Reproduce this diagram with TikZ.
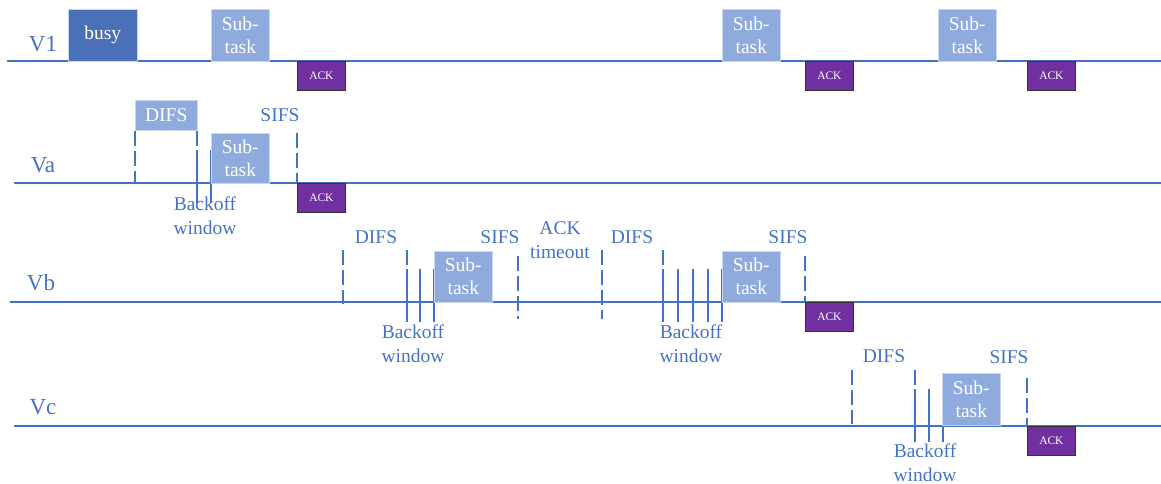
\documentclass[tikz,border=0pt]{standalone}
\usepackage{fontspec}
\setmainfont{Liberation Serif}
\definecolor{lineblue}{HTML}{4472C4}
\definecolor{busyblue}{HTML}{4A70B8}
\definecolor{subblue}{HTML}{8FAADC}
\definecolor{subedge}{HTML}{C9D6EE}
\definecolor{ackpurple}{HTML}{7030A0}
\tikzset{
  tline/.style={draw=lineblue, line width=1.6pt},
  dline/.style={draw=lineblue, line width=1.6pt, dash pattern=on 15pt off 5pt},
  sline/.style={draw=lineblue, line width=1.6pt},
  busybox/.style={fill=busyblue, draw=subedge, line width=0.6pt, text=white, anchor=north west, minimum width=69pt, minimum height=52pt, inner sep=0pt, font=\fontsize{19.5}{24}\selectfont, align=center},
  subbox/.style={fill=subblue, draw=subedge, line width=0.6pt, text=white, anchor=north west, minimum width=58pt, minimum height=52pt, inner sep=0pt, font=\fontsize{19.5}{23}\selectfont, align=center},
  difsbox/.style={fill=subblue, draw=subedge, line width=0.6pt, text=white, anchor=north west, minimum width=62pt, minimum height=30pt, inner sep=0pt, font=\fontsize{19.5}{23}\selectfont},
  ackbox/.style={fill=ackpurple, draw=black!80, line width=0.8pt, text=white, anchor=north west, minimum width=48pt, minimum height=29pt, inner sep=0pt, font=\fontsize{11.5}{13}\selectfont},
  lab/.style={text=lineblue, inner sep=0pt, font=\fontsize{19.5}{24}\selectfont, align=center},
  vlab/.style={text=lineblue, inner sep=0pt, font=\fontsize{23}{26}\selectfont},
}
\begin{document}
\begin{tikzpicture}[x=1pt,y=-1pt]
\useasboundingbox (0,0) rectangle (1161,484);
% timelines
\coordinate (l1a) at (7,61); \coordinate (l1b) at (1161,61);
\coordinate (laa) at (14,183); \coordinate (lab) at (1161,183);
\coordinate (lba) at (10,302); \coordinate (lbb) at (1161,302);
\coordinate (lca) at (14,426); \coordinate (lcb) at (1161,426);
\draw[tline] (l1a) -- (l1b);
\draw[tline] (laa) -- (lab);
\draw[tline] (lba) -- (lbb);
\draw[tline] (lca) -- (lcb);
% row labels
\node[vlab] (v1) at (43,44) {V1};
\node[vlab] (va) at (43,165) {Va};
\node[vlab] (vb) at (41,283) {Vb};
\node[vlab] (vc) at (43,407) {Vc};
% V1 row
\node[busybox] (busy) at (68,9) {busy};
\node[subbox] (s11) at (211,9) {Sub-\\task};
\node[ackbox] (a11) at (297,61) {ACK};
\node[subbox] (s12) at (722,9) {Sub-\\task};
\node[ackbox] (a12) at (805,61) {ACK};
\node[subbox] (s13) at (938,9) {Sub-\\task};
\node[ackbox] (a13) at (1027,61) {ACK};
% Va row
\node[difsbox] (difsa) at (135,100) {DIFS};
\coordinate (da1t) at (135,131); \coordinate (da1b) at (135,183);
\coordinate (da2t) at (197,131); \coordinate (da2m) at (197,150); \coordinate (da2b) at (197,203);
\coordinate (ba2t) at (211,150); \coordinate (ba2b) at (211,203);
\draw[dline] (da1t) -- (da1b);
\draw[dline] (da2t) -- (da2m);
\draw[sline] (da2m) -- (da2b);
\draw[sline] (ba2t) -- (ba2b);
\node[subbox, minimum height=50pt] (sa) at (211,133) {Sub-\\task};
\node[lab] (sifsa) at (280,115) {SIFS};
\coordinate (sat) at (297,133); \coordinate (sab) at (297,183);
\draw[dline] (sat) -- (sab);
\node[ackbox] (aa) at (297,183) {ACK};
\node[lab] (bwa) at (205,216) {Backoff\\window};
% Vb row
\node[lab] (difsb1) at (376,237) {DIFS};
\coordinate (db1t) at (343,250); \coordinate (db1b) at (343,304);
\draw[dline] (db1t) -- (db1b);
\coordinate (db2t) at (407,250); \coordinate (db2m) at (407,269); \coordinate (db2b) at (407,322);
\draw[dline] (db2t) -- (db2m);
\draw[sline] (db2m) -- (db2b);
\coordinate (bb2t) at (420,269); \coordinate (bb2b) at (420,322);
\coordinate (bb3t) at (434,269); \coordinate (bb3b) at (434,322);
\draw[sline] (bb2t) -- (bb2b);
\draw[sline] (bb3t) -- (bb3b);
\node[subbox, minimum height=51pt] (sb1) at (434,251) {Sub-\\task};
\node[lab] (sifsb1) at (500,237) {SIFS};
\coordinate (sb1t) at (518,256); \coordinate (sb1b) at (518,319);
\draw[dline] (sb1t) -- (sb1b);
\node[lab] (ackto) at (560,240) {ACK\\timeout};
\coordinate (tot) at (602,250); \coordinate (tob) at (602,319);
\draw[dline] (tot) -- (tob);
\node[lab] (difsb2) at (632,237) {DIFS};
\coordinate (db3t) at (663,250); \coordinate (db3m) at (663,269); \coordinate (db3b) at (663,322);
\draw[dline] (db3t) -- (db3m);
\draw[sline] (db3m) -- (db3b);
\foreach \xx/\nm in {678/b4,693/b5,708/b6,722/b7}{
  \coordinate (\nm t) at (\xx,269); \coordinate (\nm b) at (\xx,322);
  \draw[sline] (\nm t) -- (\nm b);
}
\node[subbox, minimum height=51pt] (sb2) at (722,251) {Sub-\\task};
\node[lab] (sifsb2) at (788,237) {SIFS};
\coordinate (sb2t) at (805,256); \coordinate (sb2b) at (805,302);
\draw[dline] (sb2t) -- (sb2b);
\node[ackbox] (ab) at (805,302) {ACK};
\node[lab] (bwb1) at (413,344) {Backoff\\window};
\node[lab] (bwb2) at (691,344) {Backoff\\window};
% Vc row
\node[lab] (difsc) at (884,356) {DIFS};
\coordinate (dc1t) at (852,370); \coordinate (dc1b) at (852,424);
\draw[dline] (dc1t) -- (dc1b);
\coordinate (dc2t) at (915,370); \coordinate (dc2m) at (915,389); \coordinate (dc2b) at (915,442);
\draw[dline] (dc2t) -- (dc2m);
\draw[sline] (dc2m) -- (dc2b);
\coordinate (bc2t) at (929,389); \coordinate (bc2b) at (929,442);
\coordinate (bc3t) at (943,389); \coordinate (bc3b) at (943,442);
\draw[sline] (bc2t) -- (bc2b);
\draw[sline] (bc3t) -- (bc3b);
\node[subbox] (sc) at (942,373) {Sub-\\task};
\node[lab] (sifsc) at (1009,357) {SIFS};
\coordinate (sct) at (1027,378); \coordinate (scb) at (1027,426);
\draw[dline] (sct) -- (scb);
\node[ackbox] (ac) at (1027,426) {ACK};
\node[lab] (bwc) at (925,463) {Backoff\\window};
\end{tikzpicture}
\end{document}
